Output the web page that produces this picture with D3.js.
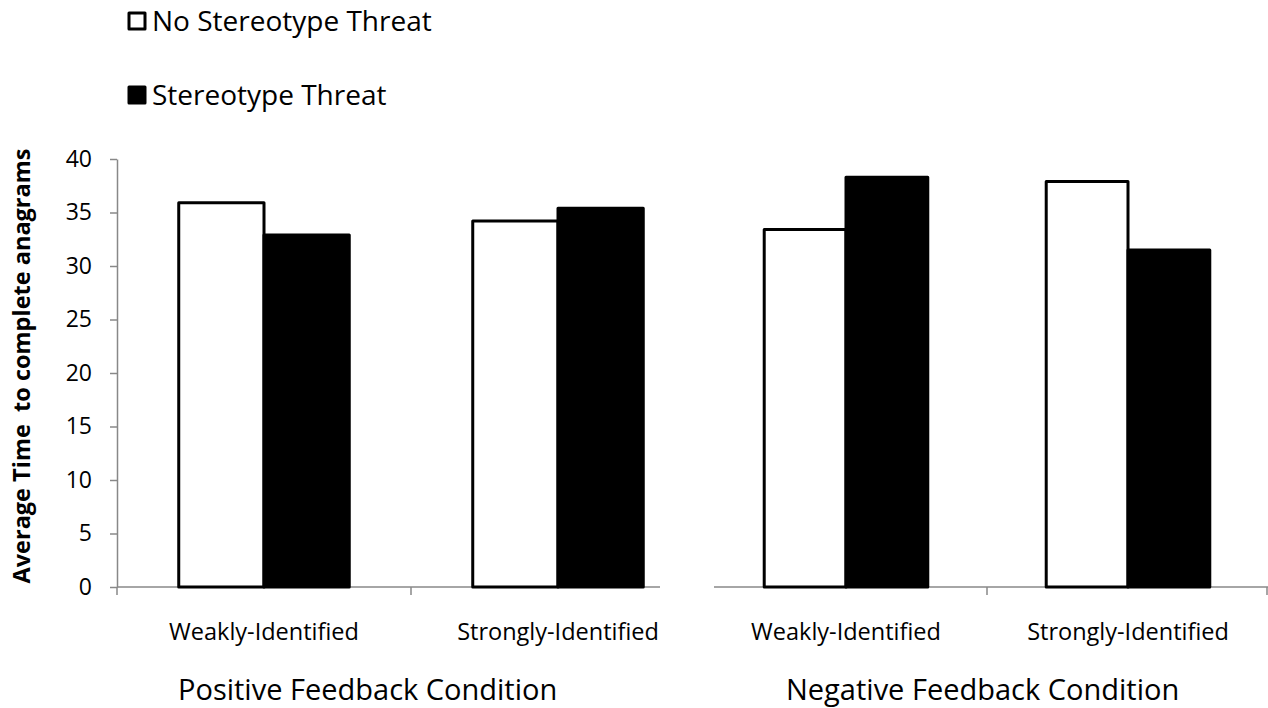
<!DOCTYPE html>
<html lang="en">
  <head>
    <meta charset="utf-8"/>
    <script src="https://d3js.org/d3.v7.min.js"></script>
    <title>Stereotype Threat Bar Chart</title>
  </head>
  <body>
    <div id="chart_div"><svg id="chart"></svg></div>
  </body>
</html>

<style>
  body { margin: 0; background: #fff; }
  svg { display: block; font-family: "Open Sans", sans-serif; }
</style>

<script>
  const width = 1268;
  const height = 708;

  // data
  const panels = ["Positive Feedback Condition", "Negative Feedback Condition"];
  const groups = ["Weakly-Identified", "Strongly-Identified"];
  const series = ["No Stereotype Threat", "Stereotype Threat"];
  const noThreatPositive = [35.9, 34.2];
  const threatPositive = [32.9, 35.4];
  const noThreatNegative = [33.4, 37.9];
  const threatNegative = [38.3, 31.5];
  const yTicks = [0, 5, 10, 15, 20, 25, 30, 35, 40];

  const panelData = [
    [noThreatPositive, threatPositive],
    [noThreatNegative, threatNegative]
  ];

  const svg = d3.select("#chart")
    .attr("width", width)
    .attr("height", height);

  const axisColor = "#888";
  const yScale = d3.scaleLinear()
    .domain([0, 40])
    .range([587, 159]);

  // each panel has its own band range and visible axis line extent
  const panelLayout = [
    {range: [117, 705], line: [117, 660], ticks: [117, 411], titleX: 178},
    {range: [705, 1269], line: [714, 1268], ticks: [987, 1267], titleX: 786}
  ];

  panels.forEach((title, p) => {
    const lay = panelLayout[p];
    const x0 = d3.scaleBand()
      .domain(groups)
      .range(lay.range);
    const bw = x0.bandwidth();
    const x1 = d3.scaleBand()
      .domain(series)
      .range([bw * 0.21, bw * 0.79]);

    const g = svg.append("g").attr("class", "panel");

    // x axis line + ticks
    g.append("line")
      .attr("x1", lay.line[0]).attr("x2", lay.line[1])
      .attr("y1", yScale(0)).attr("y2", yScale(0))
      .attr("stroke", axisColor).attr("stroke-width", 1.5);

    g.selectAll(".xtick")
      .data(lay.ticks)
      .enter()
      .append("line")
      .attr("x1", (d) => d).attr("x2", (d) => d)
      .attr("y1", yScale(0)).attr("y2", yScale(0) + 8)
      .attr("stroke", axisColor).attr("stroke-width", 1.5);

    // bars
    groups.forEach((grp, gi) => {
      series.forEach((s, si) => {
        const v = panelData[p][si][gi];
        g.append("rect")
          .attr("x", x0(grp) + x1(s))
          .attr("y", yScale(v))
          .attr("width", x1.bandwidth())
          .attr("height", yScale(0) - yScale(v))
          .attr("fill", si === 0 ? "#fff" : "#000")
          .attr("stroke", "#000")
          .attr("stroke-width", 3)
          .attr("stroke-linejoin", "round");
      });

      g.append("text")
        .attr("x", x0(grp) + bw / 2)
        .attr("y", 640)
        .attr("text-anchor", "middle")
        .attr("font-size", 23.5)
        .text(grp);
    });

    g.append("text")
      .attr("x", lay.titleX)
      .attr("y", 700)
      .attr("font-size", 29)
      .text(title);
  });

  // y axis
  const yAxis = svg.append("g")
    .attr("transform", "translate(117,0)")
    .call(d3.axisLeft(yScale).tickValues(yTicks).tickSize(7).tickSizeOuter(0));
  yAxis.select(".domain").attr("stroke", axisColor).attr("stroke-width", 1.5);
  yAxis.selectAll(".tick line").attr("stroke", axisColor).attr("stroke-width", 1.5);
  yAxis.selectAll(".tick text")
    .attr("font-family", "Open Sans, sans-serif")
    .attr("font-size", 23)
    .attr("fill", "#000")
    .attr("x", -25);

  svg.append("text")
    .attr("transform", "translate(30,366) rotate(-90)")
    .attr("text-anchor", "middle")
    .attr("font-size", 23.5)
    .attr("font-weight", "bold")
    .attr("xml:space", "preserve")
    .style("white-space", "pre")
    .text("Average Time  to complete anagrams");

  // legend
  const legend = svg.append("g").attr("class", "legend");
  series.forEach((s, i) => {
    const ly = 21 + i * 74;
    legend.append("rect")
      .attr("x", 129).attr("y", ly - 8)
      .attr("width", 16).attr("height", 16)
      .attr("fill", i === 0 ? "#fff" : "#000")
      .attr("stroke", "#000")
      .attr("stroke-width", 3)
      .attr("stroke-linejoin", "round");
    legend.append("text")
      .attr("x", 152).attr("y", ly + 10)
      .attr("font-size", 28)
      .text(s);
  });
</script>
